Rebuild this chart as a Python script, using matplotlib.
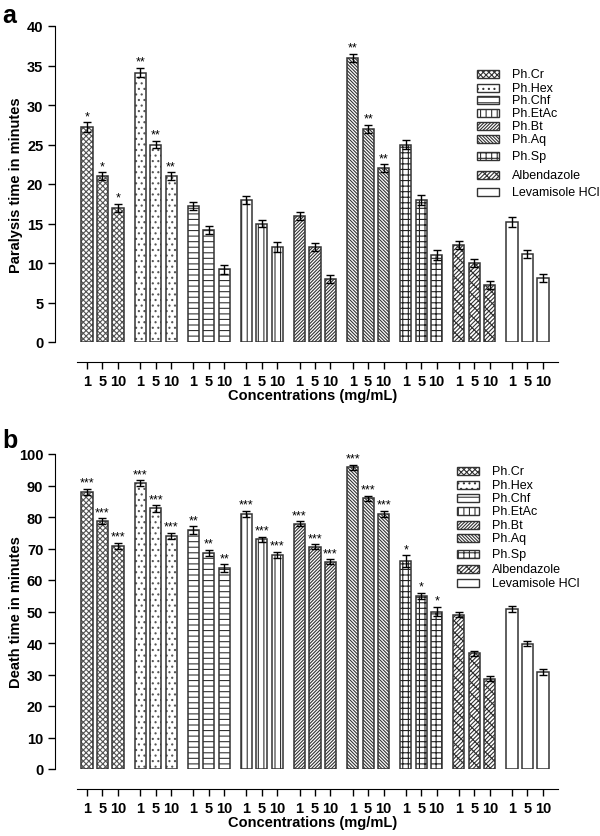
import numpy as np
import matplotlib
matplotlib.use("Agg")
import matplotlib.pyplot as plt
from matplotlib.patches import Rectangle

plt.rcParams['font.family'] = ['Liberation Sans', 'DejaVu Sans']
plt.rcParams['font.weight'] = 'bold'
plt.rcParams['hatch.linewidth'] = 0.8

groups = ["Ph.Cr", "Ph.Hex", "Ph.Chf", "Ph.EtAc", "Ph.Bt", "Ph.Aq", "Ph.Sp",
          "Albendazole", "Levamisole HCl"]
conc_labels = ["1", "5", "10"]

paralysis = [[27.2, 21.0, 17.0], [34.1, 25.0, 21.0], [17.2, 14.2, 9.2],
             [18.0, 15.0, 12.0], [16.0, 12.0, 8.0], [36.0, 27.0, 22.0],
             [25.0, 18.0, 11.0], [12.3, 10.0, 7.2], [15.2, 11.1, 8.1]]
paralysis_err = [[0.6, 0.5, 0.5], [0.6, 0.5, 0.5], [0.5, 0.5, 0.6],
                 [0.5, 0.5, 0.6], [0.5, 0.5, 0.5], [0.5, 0.5, 0.5],
                 [0.6, 0.6, 0.6], [0.5, 0.5, 0.5], [0.6, 0.5, 0.5]]
paralysis_sig = [["*", "*", "*"], ["**", "**", "**"], ["", "", ""],
                 ["", "", ""], ["", "", ""], ["**", "**", "**"],
                 ["", "", ""], ["", "", ""], ["", "", ""]]

death = [[88.0, 78.7, 70.8], [90.7, 82.7, 74.0], [75.8, 68.6, 63.8],
         [81.0, 73.0, 68.0], [77.8, 70.6, 65.8], [95.8, 86.0, 81.0],
         [66.0, 55.0, 50.0], [49.0, 36.8, 28.7], [50.7, 39.7, 30.8]]
death_err = [[1.0, 1.0, 1.0], [1.0, 1.0, 1.0], [1.2, 1.0, 1.2],
             [1.0, 0.8, 1.0], [0.8, 0.8, 0.8], [0.8, 0.8, 1.0],
             [1.8, 1.0, 1.5], [0.8, 0.8, 0.8], [1.0, 0.8, 0.8]]
death_sig = [["***", "***", "***"], ["***", "***", "***"], ["**", "**", "**"],
             ["***", "***", "***"], ["***", "***", "***"], ["***", "***", "***"],
             ["*", "*", "*"], ["", "", ""], ["", "", ""]]

hatches = ["xxxxxx", "...", "---", "|||", "//////////", "\\\\\\\\\\\\\\\\\\\\",
           "+++", "/////xxx", ""]
hatch_colors = ["#555555", "#555555", "#333333", "#333333", "#333333",
                "#333333", "#222222", "#333333", "#333333"]

EDGE = "#333333"
G = 3.43
W = 0.72

fig = plt.figure(figsize=(6.0, 8.37), dpi=100)


def fx(px):
    return px / 600.0


def fy(py):
    return (837.0 - py) / 837.0


def panel(rect, vals, errs, sigs, ymax, ystep, ylabel, letter, letter_y,
          leg_x, leg_ys, leg_tx):
    ax = fig.add_axes(rect)
    positions = []
    for g, (v, e, s) in enumerate(zip(vals, errs, sigs)):
        xs = np.arange(3) + g * G
        positions.extend(xs)
        ax.bar(xs, v, width=W, color="white", edgecolor=hatch_colors[g],
               linewidth=0, hatch=hatches[g], zorder=2)
        ax.bar(xs, v, width=W, color="none", edgecolor=EDGE, linewidth=1.1,
               zorder=2.5)
        ax.errorbar(xs, v, yerr=e, fmt="none", ecolor="black", elinewidth=1.0,
                    capsize=3.0, capthick=1.0, zorder=3)
        for xi, vi, ei, si in zip(xs, v, e, s):
            if si:
                ax.text(xi, vi + ei, si, ha="center", va="bottom", fontsize=9,
                        fontweight="normal")
    ax.set_xlim(-0.646, 30.41)
    ax.set_ylim(0, ymax)
    ax.set_xticks(positions)
    ax.set_xticklabels(conc_labels * len(vals))
    ticks = np.arange(0, ymax + 1, ystep)
    ax.set_yticks(ticks)
    ax.set_yticklabels([str(int(t)) for t in ticks])
    ax.tick_params(axis="both", direction="out", length=5, width=1.0,
                   labelsize=10.5)
    ax.tick_params(axis="x", pad=4)
    ax.spines["top"].set_visible(False)
    ax.spines["right"].set_visible(False)
    ax.spines["left"].set_position(("outward", 15.8))
    ax.spines["bottom"].set_position(("outward", 14.4))
    ax.set_ylabel(ylabel, fontsize=10.5, fontweight="bold")
    ax.yaxis.set_label_coords(-0.112, 0.5)
    ax.set_xlabel("Concentrations (mg/mL)", fontsize=10.5, fontweight="bold")
    ax.xaxis.set_label_coords(0.49, -0.145)
    fig.text(fx(2), fy(letter_y), letter, fontsize=18, fontweight="bold",
             ha="left", va="baseline")
    # legend
    for i, (lab, ly) in enumerate(zip(groups, leg_ys)):
        r = Rectangle((fx(leg_x), fy(ly + 4)), fx(22), 8.0 / 837.0,
                      transform=fig.transFigure, facecolor="white",
                      edgecolor=EDGE, linewidth=1.0, hatch=hatches[i])
        fig.add_artist(r)
        fig.text(fx(leg_tx), fy(ly), lab, fontsize=9, ha="left",
                 va="center", fontweight="normal")
    return ax


panel([fx(77), fy(343), fx(481), 316 / 837.0], paralysis, paralysis_err,
      paralysis_sig, 40, 5, "Paralysis time in minutes", "a", 23,
      477, [75, 89, 101, 114, 127, 140, 157, 176, 193], 512)
panel([fx(77), fy(770), fx(481), 315 / 837.0], death, death_err,
      death_sig, 100, 10, "Death time in minutes", "b", 448,
      457, [472, 486, 499, 512, 526, 539, 555, 570, 584], 492)

fig.savefig("out.png", dpi=100)
